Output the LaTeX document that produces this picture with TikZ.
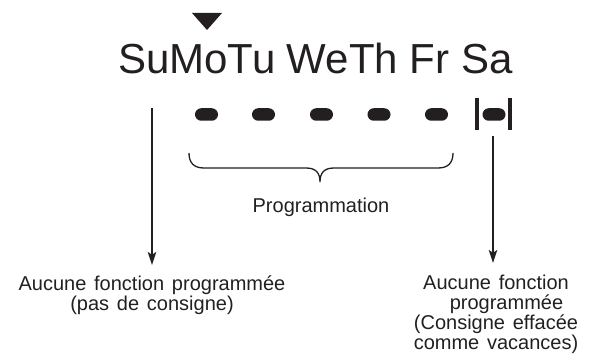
\documentclass[tikz,border=0pt]{standalone}
\usepackage{fontspec}
\setmainfont{Liberation Sans}
\newfontfamily\labfont[WordSpace=1.4]{Liberation Sans}
\usetikzlibrary{arrows.meta}
\definecolor{ink}{HTML}{231F20}
\begin{document}
\begin{tikzpicture}[x=1pt,y=-1pt,
  dashbox/.style={fill=ink, minimum width=23pt, minimum height=12.5pt, rounded corners=6.2pt, inner sep=0pt},
  barline/.style={draw=ink, line width=3.4pt},
  arr/.style={draw=ink, line width=1.3pt, -{Stealth[length=13pt,width=8.5pt,inset=3pt]}},
  lab/.style={text=ink, font=\labfont\fontsize{20}{20}\selectfont, align=center, inner sep=0pt, anchor=north},
  bracepath/.style={draw=ink, line width=1.3pt}
]
\useasboundingbox (0,0) rectangle (590,361);
% cursor triangle
\fill[ink] (192,13) -- (222,13) -- (207,30) -- cycle;
% day names
\node[anchor=base west, inner sep=0pt, text=ink, font=\fontsize{42}{42}\selectfont] (days) at (118,74) {SuMoTu WeTh Fr Sa};
% program dashes
\node[dashbox] (d1) at (206.5,114.5) {};
\node[dashbox] (d2) at (263.5,114.5) {};
\node[dashbox] (d3) at (321.5,114.5) {};
\node[dashbox] (d4) at (379,114.5) {};
\node[dashbox] (d5) at (436.5,114.5) {};
\node[dashbox] (d6) at (494,114.5) {};
\draw[barline] (477,98) -- (477,130);
\draw[barline] (510,98) -- (510,130);
% brace
\draw[bracepath] (189,153) .. controls (189,163) and (194,168) .. (204,168) -- (306,168)
  .. controls (316,168) and (320,173) .. (320,182)
  .. controls (320,173) and (324,168) .. (334,168) -- (438,168)
  .. controls (448,168) and (453,163) .. (453,153);
\node[text=ink, font=\labfont\fontsize{20}{20}\selectfont, anchor=base, inner sep=0pt] (prog) at (321,212) {Programmation};
% labels
\node[lab] (llab) at (152,275.4) {Aucune fonction programmée\\(pas de consigne)};
\node[lab] (rlab) at (496,274.4) {Aucune fonction\\\hspace*{21pt}programmée\\(Consigne effacée\\comme vacances)};
% arrows
\coordinate (ltop) at (152,108);
\coordinate (rtop) at (493,136);
\draw[arr] (ltop) -- ([yshift=10.5pt]ltop |- llab.north);
\draw[arr] (rtop) -- ([yshift=11.5pt]rtop |- rlab.north);
\end{tikzpicture}
\end{document}
